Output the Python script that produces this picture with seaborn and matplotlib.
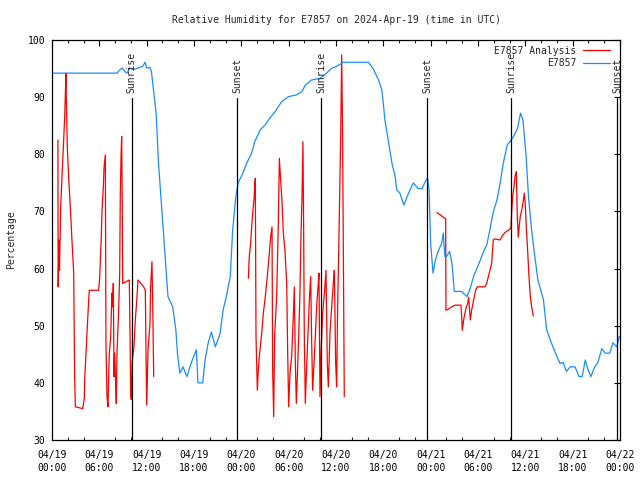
import numpy as np
import pandas as pd
import matplotlib
matplotlib.use("Agg")
import matplotlib.pyplot as plt
from matplotlib.lines import Line2D
from matplotlib.ticker import MultipleLocator
import seaborn as sns

# ── data (hours since 2024-04-19 00:00 UTC) ─────────────────
obs_hours = [0, 8.3, 8.4, 8.9, 9.3, 9.5, 9.9, 10.3, 10.9, 11.5, 11.8, 12.0, 12.4, 12.6,
             13.2, 13.5, 13.8, 14.1, 14.4, 14.7, 15.3, 15.7, 15.9, 16.2, 16.6, 17.1,
             17.7, 18.3, 18.5, 19.1, 19.4, 19.8, 20.2, 20.7, 21.3, 21.7, 22.1, 22.6,
             22.9, 23.3, 23.6, 24.2, 24.7, 25.3, 25.7, 26.4, 27.0, 27.6, 28.3, 29.1,
             30.0, 31.0, 31.7, 32.1, 32.9, 34.0, 34.8, 35.4, 36.1, 36.9, 40.1, 40.7,
             41.4, 41.8, 42.0, 42.2, 42.4, 42.8, 43.1, 43.5, 43.7, 44.1, 44.6, 45.2,
             45.8, 46.4, 46.9, 47.3, 47.6, 47.8, 48.0, 48.3, 48.6, 49.0, 49.4, 49.6,
             49.8, 50.0, 50.4, 50.7, 51.0, 51.9, 52.6, 53.0, 53.5, 53.8, 54.3, 54.7,
             55.1, 55.5, 55.9, 56.4, 56.8, 57.2, 57.7, 58.5, 59.0, 59.4, 59.7, 60.1,
             60.4, 60.8, 61.2, 61.6, 62.3, 62.7, 63.3, 64.0, 64.4, 64.8, 65.2, 65.7,
             66.3, 66.8, 67.2, 67.6, 67.9, 68.3, 68.8, 69.2, 69.7, 70.1, 70.7, 71.1,
             71.6, 71.9, 72.0]
obs_rh = [94.2, 94.2, 94.5, 95.1, 94.4, 94.2, 95.1, 94.8, 95.1, 95.4, 96.1, 95.1, 95.2, 94.5,
          87.2, 78.5, 72.6, 66.7, 61.0, 55.1, 53.3, 49.3, 45.2, 41.7, 42.8, 41.1,
          43.7, 45.8, 40.0, 40.0, 44.0, 47.0, 48.9, 46.3, 48.6, 52.8, 55.1, 58.6,
          66.7, 72.6, 75.0, 76.7, 78.5, 80.2, 82.2, 84.3, 85.1, 86.3, 87.5, 89.2,
          90.1, 90.4, 91.0, 92.1, 93.0, 93.3, 94.2, 95.0, 95.4, 96.1, 96.1, 95.0,
          93.0, 91.3, 88.9, 86.0, 84.3, 80.8, 78.4, 76.1, 73.8, 73.2, 71.1, 73.2,
          75.0, 74.0, 74.0, 75.2, 75.8, 73.8, 64.4, 59.2, 61.5, 63.2, 64.4, 66.2,
          62.1, 62.1, 63.0, 60.9, 56.0, 56.0, 55.1, 56.5, 58.9, 59.8, 61.5, 63.0,
          64.1, 66.7, 69.7, 72.0, 74.9, 78.4, 81.6, 83.1, 84.5, 87.2, 86.0, 79.6,
          72.6, 66.7, 62.1, 58.0, 54.5, 49.3, 47.0, 44.6, 43.4, 43.6, 42.0, 42.8,
          42.8, 41.1, 41.1, 44.0, 42.5, 41.1, 42.8, 43.6, 46.0, 45.2, 45.2, 47.0,
          46.3, 48.1, 48.1]

# analysis, three separate runs
ana1_hours = [0.75, 0.78, 0.90, 0.95, 1.10, 1.27, 1.44, 1.61, 1.77, 1.80, 1.94, 2.11,
              2.32, 2.53, 2.75, 2.80, 2.87, 2.96, 3.89, 4.10, 4.14, 4.27, 4.39, 4.52,
              4.65, 4.73, 5.91, 6.04, 6.25, 6.34, 6.51, 6.60, 6.76, 6.84, 6.97, 7.10,
              7.18, 7.27, 7.44, 7.52, 7.60, 7.68, 7.77, 7.86, 7.94, 8.07, 8.15, 8.24,
              8.45, 8.58, 8.66, 8.75, 8.83, 8.91, 8.96, 9.80, 9.89, 9.97, 10.05, 10.14,
              10.39, 10.56, 10.75, 10.90, 11.62, 11.83, 11.91, 12.00, 12.17, 12.42,
              12.50, 12.67, 12.76, 12.89]
ana1_rh = [82.5, 56.8, 65.0, 59.7, 70.8, 76.1, 81.3, 86.6, 94.2, 90.7, 81.3, 76.1,
           70.8, 65.0, 59.2, 51.6, 41.1, 35.8, 35.5, 37.3, 40.5, 44.0, 47.5, 51.0,
           54.5, 56.2, 56.2, 58.3, 65.6, 70.2, 74.3, 77.8, 79.9, 46.9, 37.6, 35.8,
           41.1, 45.2, 48.1, 52.2, 55.7, 53.3, 57.4, 41.1, 45.2, 39.9, 36.4, 45.2,
           52.7, 59.2, 73.2, 79.6, 83.1, 70.2, 57.4, 58.0, 48.7, 38.2, 37.1, 43.4,
           46.3, 51.0, 54.5, 58.0, 56.8, 56.2, 46.3, 36.1, 45.7, 50.4,
           56.8, 61.2, 54.5, 41.1]

ana2_hours = [24.89, 25.01, 25.18, 25.31, 25.44, 25.60, 25.69, 25.77, 25.86, 26.03, 26.15,
              26.28, 26.45, 26.62, 26.79, 27.04, 27.29, 27.55, 27.72, 27.89, 27.97, 28.10,
              28.22, 28.48, 28.69, 28.82, 28.98, 29.15, 29.32, 29.53, 29.75, 29.87, 30.00,
              30.17, 30.38, 30.59, 30.72, 30.84, 30.97, 31.10, 31.27, 31.43, 31.56, 31.69,
              31.81, 31.90, 31.98, 32.11, 32.28, 32.45, 32.62, 32.79, 32.91, 33.04, 33.21,
              33.38, 33.55, 33.72, 33.84, 33.97, 34.10, 34.31, 34.56, 34.73, 34.90, 35.03,
              35.24, 35.45, 35.66, 35.79, 35.96, 36.08, 36.21, 36.34, 36.46, 36.59, 36.72,
              36.84, 37.05]
ana2_rh = [58.3, 62.1, 64.4, 67.3, 69.7, 72.0, 74.3, 75.8, 48.1, 38.7, 42.2,
           44.6, 46.9, 49.2, 52.2, 55.1, 58.6, 62.7, 65.6, 67.3, 42.2, 34.1,
           48.1, 55.1, 67.9, 79.3, 75.5, 72.0, 66.2, 63.2, 57.4, 45.7, 35.8,
           41.7, 44.6, 51.6, 56.8, 44.0, 36.4, 41.1, 48.1, 55.7, 65.6, 72.6,
           82.2, 66.7, 48.7, 36.4, 42.8, 48.7, 54.5, 58.6, 47.5, 38.7, 43.4,
           48.1, 53.3, 56.8, 59.2, 37.6, 45.2, 52.2, 56.2, 59.7, 43.4, 39.3,
           48.7, 53.3, 57.4, 59.7, 43.4, 39.3, 53.3, 62.7, 72.6, 82.5, 97.4,
           82.5, 37.6]

ana3_hours = [48.80, 49.31, 49.60, 49.90, 49.94, 50.24, 50.66, 51.08, 51.84, 51.93, 52.01,
              52.18, 52.35, 52.52, 52.69, 52.81, 52.90, 53.03, 53.19, 53.45, 53.70, 53.91,
              54.88, 55.10, 55.73, 55.94, 56.15, 56.79, 57.08, 57.42, 58.05, 58.18, 58.26,
              58.39, 58.56, 58.69, 58.86, 58.98, 59.11, 59.24, 59.36, 59.53, 59.70, 59.87,
              60.00, 60.12, 60.29, 60.46, 60.63, 60.80, 61.01]
ana3_rh = [69.8, 69.3, 69.0, 68.7, 52.7, 52.9, 53.3, 53.6, 53.6, 51.6, 49.2,
           51.0, 52.2, 53.3, 53.9, 55.0, 53.3, 51.0, 52.7, 54.5, 56.2, 56.8,
           56.8, 57.4, 60.9, 65.0, 65.2, 65.0, 65.7, 66.3, 66.9, 67.3, 69.7,
           72.6, 74.3, 76.1, 77.0, 69.1, 65.5, 67.6, 69.1, 70.2, 71.4, 73.2,
           71.1, 67.3, 63.2, 58.6, 55.1, 53.3, 51.7]

sunrise_hours = [10.1, 34.1, 58.2]
sunset_hours = [23.5, 47.55, 71.65]

tick_hours = list(range(0, 73, 6))
tick_labels = ["04/19\n00:00", "04/19\n06:00", "04/19\n12:00", "04/19\n18:00",
               "04/20\n00:00", "04/20\n06:00", "04/20\n12:00", "04/20\n18:00",
               "04/21\n00:00", "04/21\n06:00", "04/21\n12:00", "04/21\n18:00",
               "04/22\n00:00"]

# ── frames ──────────────────────────────────────────────────
obs = pd.DataFrame({"hour": obs_hours, "rh": obs_rh})
ana = pd.concat([
    pd.DataFrame({"hour": ana1_hours, "rh": ana1_rh, "run": 1}),
    pd.DataFrame({"hour": ana2_hours, "rh": ana2_rh, "run": 2}),
    pd.DataFrame({"hour": ana3_hours, "rh": ana3_rh, "run": 3}),
])

sns.set_theme(style="white")
plt.rcParams["font.family"] = ["DejaVu Sans Mono"]
plt.rcParams["font.size"] = 7

red = "#ff0000"
blue = "#1a8cff"

fig = plt.figure(figsize=(6.4, 4.8), dpi=100)
ax = fig.add_axes([52 / 640, 40 / 480, 568 / 640, 400 / 480])

sns.lineplot(data=ana, x="hour", y="rh", units="run", estimator=None, sort=False,
             color=red, linewidth=0.9, ax=ax)
sns.lineplot(data=obs, x="hour", y="rh", estimator=None, sort=False,
             color=blue, linewidth=0.9, ax=ax)

# sunrise / sunset markers
for hrs, name in [(sunrise_hours, "Sunrise"), (sunset_hours, "Sunset")]:
    for h in hrs:
        ax.plot([h, h], [30, 89.9], color="black", linewidth=0.9)
        ax.text(h, 90.7, name, rotation=90, ha="center", va="bottom", fontsize=7)

ax.set_xlim(0, 72)
ax.set_ylim(30, 100)
ax.set_xticks(tick_hours)
ax.set_xticklabels(tick_labels, linespacing=1.45)
ax.xaxis.set_minor_locator(MultipleLocator(2))
ax.set_yticks(range(30, 101, 10))
ax.tick_params(which="major", direction="in", length=4.5, width=0.8,
               top=True, right=True, pad=5, colors="black", labelsize=7)
ax.tick_params(axis="x", which="major", pad=7)
ax.tick_params(which="minor", direction="in", length=2.5, width=0.8,
               top=True, right=False, bottom=True)
ax.tick_params(axis="y", which="minor", left=False, right=False)
for s in ax.spines.values():
    s.set_color("black")
    s.set_linewidth(0.9)

ax.set_xlabel("")
ax.set_ylabel("Percentage", fontsize=7, labelpad=8)
ax.set_title("Relative Humidity for E7857 on 2024-Apr-19 (time in UTC)",
             fontsize=7, pad=12)

handles = [Line2D([], [], color=red, linewidth=0.9),
           Line2D([], [], color=blue, linewidth=0.9)]
ax.legend(handles, ["E7857 Analysis", "E7857"], loc="upper right", frameon=False,
          markerfirst=False, fontsize=7, handlelength=2.8, labelspacing=0.25,
          borderaxespad=0, bbox_to_anchor=(1 - 6 / 568, 1 - 2 / 400),
          handletextpad=0.7)

fig.savefig("out.png", dpi=100)
